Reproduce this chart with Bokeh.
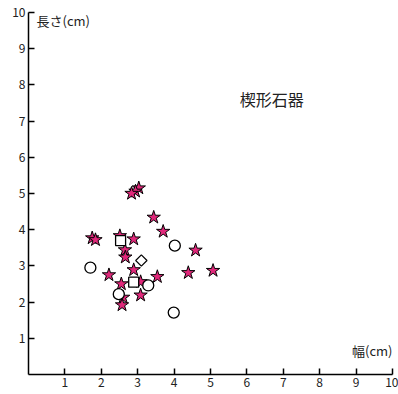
import numpy as np
from bokeh.plotting import figure
from bokeh.models import Label, FixedTicker, Range1d
from bokeh.embed import file_html
from bokeh.resources import INLINE

# 楔形石器 — width (幅) vs length (長さ), cm
star_x = [3.03, 2.94, 2.83, 3.44, 3.70, 1.75, 1.84, 2.51, 2.89, 2.65, 2.66, 4.59,
          2.21, 2.89, 3.54, 4.39, 5.07, 2.55, 3.08, 3.08, 2.60, 2.57]
star_y = [5.15, 5.06, 5.00, 4.34, 3.95, 3.77, 3.72, 3.83, 3.74, 3.44, 3.24, 3.43,
          2.75, 2.89, 2.70, 2.81, 2.87, 2.50, 2.56, 2.19, 2.13, 1.92]
circle_x = [4.02, 1.70, 3.29, 2.48, 3.99]
circle_y = [3.56, 2.95, 2.46, 2.22, 1.71]
square_x = [2.53, 2.89]
square_y = [3.70, 2.55]
diamond_x = [3.10]
diamond_y = [3.15]
ticks = [1, 2, 3, 4, 5, 6, 7, 8, 9, 10]

FONT = "Noto Sans CJK JP"

p = figure(width=398, height=394, output_backend="svg", toolbar_location=None,
           x_range=Range1d(0, 10), y_range=Range1d(0, 10),
           min_border_left=28, min_border_right=6, min_border_top=12, min_border_bottom=20)
p.outline_line_color = None
p.grid.visible = False
p.background_fill_color = "white"

for ax in (p.xaxis[0], p.yaxis[0]):
    ax.ticker = FixedTicker(ticks=ticks)
    ax.axis_line_width = 1.5
    ax.axis_line_color = "black"
    ax.major_tick_in = 6
    ax.major_tick_out = 0
    ax.major_tick_line_width = 1.5
    ax.minor_tick_line_color = None
    ax.major_label_text_font = FONT
    ax.major_label_text_font_size = "12px"
    ax.major_label_text_color = "#222222"
    ax.major_label_standoff = 3

p.scatter(star_x, star_y, marker="star", size=14, fill_color="#E0287A",
          line_color="black", line_width=1)
p.scatter(circle_x, circle_y, marker="circle", size=11, fill_color="white",
          line_color="black", line_width=1.3)
p.scatter(square_x, square_y, marker="square", size=10, fill_color="white",
          line_color="black", line_width=1.3)
p.scatter(diamond_x, diamond_y, marker="square", size=8, angle=np.pi / 4,
          fill_color="white", line_color="black", line_width=1.2)

p.add_layout(Label(x=0, y=0, text="0", x_offset=-8, y_offset=-11,
                   text_align="center", text_baseline="middle",
                   text_font=FONT, text_font_size="12px", text_color="#222222"))
p.add_layout(Label(x=0, y=10, text="長さ(cm)", x_offset=8, y_offset=2,
                   text_align="left", text_baseline="top",
                   text_font=FONT, text_font_size="13px", text_color="#222222"))
p.add_layout(Label(x=10, y=0, text="幅(cm)", x_offset=0, y_offset=24,
                   text_align="right", text_baseline="middle",
                   text_font=FONT, text_font_size="13px", text_color="#222222"))
p.add_layout(Label(x=6.68, y=7.6, text="楔形石器",
                   text_align="center", text_baseline="middle",
                   text_font=FONT, text_font_size="16px", text_color="#222222"))

open("out.html", "w").write(file_html(p, INLINE))
